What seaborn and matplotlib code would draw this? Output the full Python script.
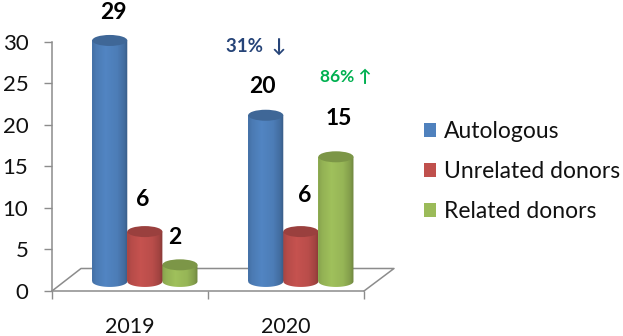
import numpy as np
import pandas as pd
import seaborn as sns
import matplotlib
matplotlib.use("Agg")
import matplotlib.pyplot as plt
from matplotlib.lines import Line2D
from matplotlib.patches import Ellipse
from matplotlib.path import Path

years = ["2019", "2020"]
series = ["Autologous", "Unrelated donors", "Related donors"]
autologous = [29, 20]
unrelated = [6, 6]
related = [2, 15]
colors = ["#4F81BD", "#C0504D", "#9BBB59"]
y_ticks = [0, 5, 10, 15, 20, 25, 30]

sns.set_theme(style="white")
plt.rcParams["font.family"] = ["Lato", "DejaVu Sans"]
W, H = 623, 336
fig = plt.figure(figsize=(W / 100, H / 100), dpi=100)
ax = fig.add_axes([52 / W, 1 - 291 / H, 312 / W, 249.3 / H])
ax.patch.set_visible(False)

df = pd.DataFrame({
    "year": years * 3,
    "series": np.repeat(series, 2),
    "value": autologous + unrelated + related,
})
sns.barplot(data=df, x="year", y="value", hue="series", order=years, hue_order=series,
            palette=colors, width=0.675, gap=0, saturation=1, ax=ax, linewidth=0)

ax.set_xlim(-0.5, 1.5)
ax.set_ylim(0, 30)
grey = "#8C8C8C"
sns.despine(ax=ax)
for s in ("left", "bottom"):
    ax.spines[s].set_color(grey)
    ax.spines[s].set_linewidth(1.1)
ax.set_xlabel("")
ax.set_ylabel("")
ax.set_yticks(y_ticks)
ax.tick_params(axis="y", length=6, width=1, color=grey, pad=11, labelsize=16, labelcolor="#111111", left=True)
ax.tick_params(axis="x", length=0, pad=18.5, labelsize=15.5, labelcolor="#111111")
ax.set_xticks([-0.5, 0.5, 1.5], minor=True)
ax.tick_params(axis="x", which="minor", length=6, width=1, color=grey, bottom=True)

# floor of the 3D look
def fig_line(xs, ys):
    fig.add_artist(Line2D([x / W for x in xs], [1 - y / H for y in ys], color=grey, lw=1.1, zorder=-1))
fig_line([52, 81, 394, 364], [291, 268.5, 268.5, 291])

# cylinders built on the seaborn bars
base = 1.15
shift = 0.095
px_y = 30 / 249.3
ell_h = 11 * px_y
stops_t = [0, 0.12, 0.38, 0.7, 0.9, 1]
stops_f = [0.86, 0.95, 1.03, 0.97, 0.84, 0.7]
t = np.linspace(0, 1, 200)
shade = np.interp(t, stops_t, stops_f)

def gradient(rgb, factor=1.0):
    arr = np.clip(np.outer(shade * factor, rgb), 0, 1)
    return arr[np.newaxis, :, :]

bars = [p for p in ax.patches if p.get_height() > 0]
for i, p in enumerate(bars):
    z = 3 + i % 3 * 2
    h = p.get_height()
    p.set_y(base)
    p.set_x(p.get_x() + shift)
    p.set_clip_on(False)
    p.set_zorder(z)
    x0, w = p.get_x(), p.get_width()
    rgb = np.array(matplotlib.colors.to_rgb(p.get_facecolor()))
    top = base + h
    theta = np.linspace(np.pi, 2 * np.pi, 60)
    lo_x = x0 + w / 2 + w / 2 * np.cos(theta)
    lo_y = base + ell_h / 2 * np.sin(theta)
    verts = [(x0, top)] + list(zip(lo_x, lo_y)) + [(x0 + w, top), (x0, top)]
    im = ax.imshow(gradient(rgb), extent=[x0, x0 + w, base - ell_h, top], aspect="auto",
                   interpolation="bilinear", zorder=z + 0.1)
    im.set_clip_path(Path(verts), transform=ax.transData)
    im.set_clip_box(fig.bbox)
    cap = Ellipse((x0 + w / 2, top), w, ell_h, facecolor=rgb * 0.8, edgecolor="none",
                  zorder=z + 0.2, clip_on=False)
    ax.add_patch(cap)
ax.set_xlim(-0.5, 1.5)
ax.set_ylim(0, 30)

# value labels
label_dx = [4, -2, -5, -3, 4, 3]
label_dy = [28, 32, 27, 29, 36, 38]
order = [bars[0], bars[2], bars[4], bars[1], bars[3], bars[5]]
vals = [autologous[0], unrelated[0], related[0], autologous[1], unrelated[1], related[1]]
for p, v, dx, dy in zip(order, vals, label_dx, label_dy):
    ax.annotate(str(v), (p.get_x() + p.get_width() / 2, base + p.get_height()),
                xytext=(dx * 0.72, dy * 0.72), textcoords="offset points",
                ha="center", va="center", fontsize=16.5, fontweight="bold",
                color="black", annotation_clip=False, zorder=20)

fig.text(256 / W, 1 - 46 / H, "31%  \u2193", ha="center", va="center", fontsize=13.5,
         fontweight="bold", color="#264478")
fig.text(346 / W, 1 - 77 / H, "86% \u2191", ha="center", va="center", fontsize=12.5,
         fontweight="bold", color="#00B050")

handles, labels = ax.get_legend_handles_labels()
ax.legend(handles, labels, loc="center left", bbox_to_anchor=(417 / W, 1 - 171.5 / H),
          bbox_transform=fig.transFigure, frameon=False, fontsize=16.5, handlelength=0.52,
          handleheight=0.55, handletextpad=0.35, labelspacing=0.82, labelcolor="#111111",
          borderpad=0, borderaxespad=0.3)

fig.savefig("out.png", dpi=100)
